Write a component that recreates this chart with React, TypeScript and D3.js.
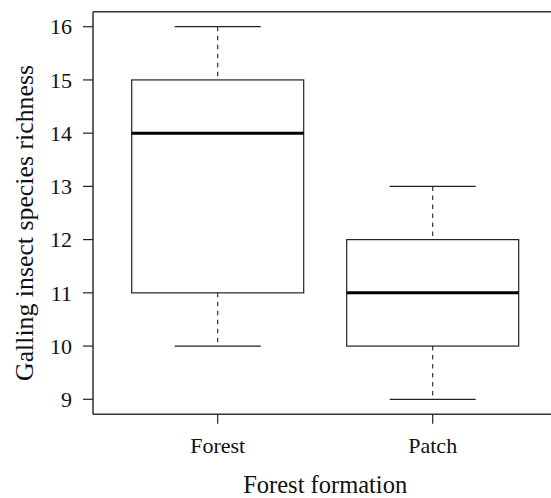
import React from "react";
import * as d3 from "d3";

const categories = ["Forest", "Patch"];
const mins = [10, 9];
const q1s = [11, 10];
const medians = [14, 11];
const q3s = [15, 12];
const maxs = [16, 13];
const yTicks = [9, 10, 11, 12, 13, 14, 15, 16];

const W = 551;
const H = 498;
const FONT = "'Liberation Serif', 'Times New Roman', serif";

export default function App() {
  const x = d3.scaleLinear().domain([0.42, 2.58]).range([93, 557.4]);
  const y = d3.scaleLinear().domain([8.72, 16.28]).range([414.2, 11.8]);
  const boxHalf = 0.4;
  const capHalf = 0.2;
  const x0 = x(0.42);
  const yTop = y(16.28);
  const yBot = y(8.72);

  return (
    <svg
      width={W}
      height={H}
      style={{ position: "absolute", left: 0, top: 0, background: "#fff", fontFamily: FONT }}
    >
      <rect x={0} y={0} width={W} height={H} fill="#fff" />
      {/* frame */}
      <line x1={x0} x2={W + 10} y1={yTop} y2={yTop} stroke="#333" strokeWidth={1.4} />
      <line x1={x0} x2={W + 10} y1={yBot} y2={yBot} stroke="#333" strokeWidth={1.4} />
      <line x1={x0} x2={x0} y1={yTop} y2={yBot} stroke="#222" strokeWidth={1.4} />

      {/* y axis ticks */}
      {yTicks.map((t) => (
        <g key={t}>
          <line x1={x0 - 10} x2={x0} y1={y(t)} y2={y(t)} stroke="#222" strokeWidth={1.2} />
          <text x={72} y={y(t)} dy="0.35em" textAnchor="end" fontSize={22} fill="#111">
            {t}
          </text>
        </g>
      ))}

      {/* x axis ticks */}
      {categories.map((c, i) => (
        <g key={c}>
          <line x1={x(i + 1)} x2={x(i + 1)} y1={yBot} y2={yBot + 9.5} stroke="#222" strokeWidth={1.2} />
          <text x={x(i + 1)} y={453} textAnchor="middle" fontSize={22} fill="#111">
            {c}
          </text>
        </g>
      ))}

      {/* boxes */}
      {categories.map((c, i) => {
        const cx = x(i + 1);
        const bl = x(i + 1 - boxHalf);
        const br = x(i + 1 + boxHalf);
        const cl = x(i + 1 - capHalf);
        const cr = x(i + 1 + capHalf);
        return (
          <g key={"b" + c}>
            <line x1={cx} x2={cx} y1={y(maxs[i])} y2={y(q3s[i])} stroke="#222" strokeWidth={1.1} strokeDasharray="4.5,4.5" />
            <line x1={cx} x2={cx} y1={y(q1s[i])} y2={y(mins[i])} stroke="#222" strokeWidth={1.1} strokeDasharray="4.5,4.5" />
            <line x1={cl} x2={cr} y1={y(maxs[i])} y2={y(maxs[i])} stroke="#222" strokeWidth={1.2} />
            <line x1={cl} x2={cr} y1={y(mins[i])} y2={y(mins[i])} stroke="#222" strokeWidth={1.2} />
            <rect
              x={bl}
              y={y(q3s[i])}
              width={br - bl}
              height={y(q1s[i]) - y(q3s[i])}
              fill="none"
              stroke="#222"
              strokeWidth={1.2}
            />
            <line x1={bl} x2={br} y1={y(medians[i])} y2={y(medians[i])} stroke="#000" strokeWidth={3} />
          </g>
        );
      })}

      {/* axis titles */}
      <text x={(93 + 557.4) / 2} y={493} textAnchor="middle" fontSize={24.5} fill="#111">
        Forest formation
      </text>
      <text
        transform={`translate(33, 223) rotate(-90)`}
        textAnchor="middle"
        fontSize={25.8}
        fill="#111"
      >
        Galling insect species richness
      </text>
    </svg>
  );
}
